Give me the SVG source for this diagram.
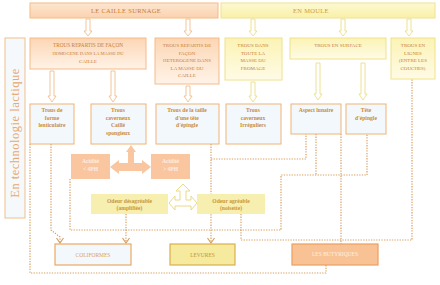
<svg xmlns="http://www.w3.org/2000/svg" width="440" height="285" viewBox="0 0 440 285">
<style>
text{font-family:"Liberation Serif","DejaVu Serif",serif;text-anchor:middle}
.bar{font-size:6.5px;letter-spacing:0.3px}
.cap{font-size:5px;fill:#c8803c}
.lbl{font-size:5.6px;font-weight:bold;fill:#c98a3c}
.wht{font-size:5.6px;font-weight:bold;fill:#fdeee0}
.odr{font-size:5.6px;font-weight:bold;fill:#c8963a}
.peach{fill:url(#gp);stroke:#f5bb86;stroke-width:1}
.yel{fill:url(#gy);stroke:#f0e28c;stroke-width:1}
.blue{fill:#f3f8fc;stroke:#efb476;stroke-width:1}
.acid{fill:#f9c6a0}
.odb{fill:#f7efb0}
.harr{fill:#fff;stroke:#f0b880;stroke-width:0.8}
.harry{fill:#fff;stroke:#eadb7c;stroke-width:0.8}
.dot{fill:none;stroke:#d8a060;stroke-width:1.2;stroke-dasharray:1.3 1.3}
</style>
<defs>
<linearGradient id="gp" x1="0" y1="0" x2="0" y2="1"><stop offset="0" stop-color="#fcd6b4"/><stop offset="1" stop-color="#fff3e8"/></linearGradient>
<linearGradient id="gy" x1="0" y1="0" x2="0" y2="1"><stop offset="0" stop-color="#fbf3b4"/><stop offset="1" stop-color="#fffbe6"/></linearGradient>
<linearGradient id="gbp" x1="0" y1="0" x2="0" y2="1"><stop offset="0" stop-color="#fde6d0"/><stop offset="1" stop-color="#fbd2ae"/></linearGradient>
<linearGradient id="gby" x1="0" y1="0" x2="0" y2="1"><stop offset="0" stop-color="#fdf9d2"/><stop offset="1" stop-color="#f9f0a8"/></linearGradient>
<marker id="ah" markerWidth="8" markerHeight="8" refX="6" refY="4" orient="auto" markerUnits="userSpaceOnUse"><path d="M1,0.5 L6,4 L1,7.5" fill="none" stroke="#d8a060" stroke-width="1.2"/></marker>
</defs>
<rect width="440" height="285" fill="#ffffff"/>

<g id="connectors">
<path class="dot" d="M30,144 V273 H326 V265"/>
<path class="dot" d="M51,144 V230 L60,237 V243" marker-end="url(#ah)"/>
<path class="dot" d="M70,179 V230 H281 V175 H367 V134"/>
<path class="dot" d="M316,134 V175"/>
<path class="dot" d="M211,144 V243" marker-end="url(#ah)"/>
<path class="dot" d="M211,159 H306 V134"/>
<path class="dot" d="M126,214 V243" marker-end="url(#ah)"/>
<path class="dot" d="M241,214 V240 H412 V79"/>
<path class="dot" d="M341,134 V244"/>
<path class="harr" d="M86,19 V31 H84 L88,36 L92,31 H90 V19 Z"/>
<path class="harr" d="M186,19 V31 H184 L188,36 L192,31 H190 V19 Z"/>
<path class="harry" d="M251,19 V31 H249 L253,36 L257,31 H255 V19 Z"/>
<path class="harry" d="M341,19 V31 H339 L343,36 L347,31 H345 V19 Z"/>
<path class="harry" d="M407,19 V31 H405 L409,36 L413,31 H411 V19 Z"/>
<path class="harr" d="M50,71 V96 H48 L52,102 L56,96 H54 V71 Z"/>
<path class="harr" d="M111,71 V96 H109 L113,102 L117,96 H115 V71 Z"/>
<path class="harr" d="M186,86 V96 H184 L188,102 L192,96 H190 V86 Z"/>
<path class="harry" d="M251,82 V96 H249 L253,102 L257,96 H255 V82 Z"/>
<path class="harry" d="M316,63 V94 H314 L318,100 L322,94 H320 V63 Z"/>
<path class="harry" d="M361,63 V94 H359 L363,100 L367,94 H365 V63 Z"/>
</g>

<g id="side"><rect x="5" y="38" width="20" height="180" fill="#f5f9fc" stroke="#f0bf8c" stroke-width="1"/>
<text transform="translate(19,133) rotate(-90)" style="font-size:12.5px;fill:#e8a872;letter-spacing:0.5px">En technologie lactique</text></g>

<g id="caille"><rect x="30" y="3" width="188" height="15" fill="url(#gbp)" stroke="#f6bb84" stroke-width="1"/><text class="bar" x="126" y="13" fill="#c87a34">LE CAILLE SURNAGE</text></g>
<g id="moule"><rect x="221" y="3" width="214" height="15" fill="url(#gby)" stroke="#f0e290" stroke-width="1"/><text class="bar" x="311" y="13" fill="#cf9a3c">EN MOULE</text></g>

<g id="homogene"><rect class="peach" x="30" y="38" width="116" height="31"/>
<text class="cap" x="88" y="47" style="font-size:5.3px">TROUS REPARTIS DE FAÇON</text>
<text class="cap" x="88" y="55" style="font-size:4.6px">HOMOGENE DANS LA MASSE DU</text>
<text class="cap" x="88" y="63">CAILLE</text></g>
<g id="heterogene"><rect class="peach" x="155" y="38" width="64" height="46"/>
<text class="cap" x="187" y="47">TROUS REPARTIS DE</text>
<text class="cap" x="187" y="54.5">FAÇON</text>
<text class="cap" x="187" y="62">HETEROGENE DANS</text>
<text class="cap" x="187" y="69.5">LA MASSE DU</text>
<text class="cap" x="187" y="77">CAILLE</text></g>
<g id="masse"><rect class="yel" x="225" y="38" width="57" height="42"/>
<text class="cap" x="253" y="47">TROUS DANS</text>
<text class="cap" x="253" y="54.5">TOUTE LA</text>
<text class="cap" x="253" y="62">MASSE DU</text>
<text class="cap" x="253" y="69.5">FROMAGE</text></g>
<g id="surface"><rect class="yel" x="290" y="38" width="96" height="21"/>
<text class="cap" x="338" y="47">TROUS EN SURFACE</text></g>
<g id="lignes"><rect class="yel" x="391" y="38" width="44" height="41"/>
<text class="cap" x="413" y="47">TROUS EN</text>
<text class="cap" x="413" y="54.5">LIGNES</text>
<text class="cap" x="413" y="62">(ENTRE LES</text>
<text class="cap" x="413" y="69.5">COUCHES)</text></g>

<g id="lenticulaire"><rect class="blue" x="30" y="104" width="44" height="40"/>
<text class="lbl" x="52" y="112">Trous de</text><text class="lbl" x="52" y="119.5">forme</text><text class="lbl" x="52" y="127">lenticulaire</text></g>
<g id="spongieux"><rect class="blue" x="91" y="104" width="55" height="40"/>
<text class="lbl" x="118" y="112">Trous</text><text class="lbl" x="118" y="119.5">caverneux</text><text class="lbl" x="118" y="127">Caillé</text><text class="lbl" x="118" y="134.5">spongieux</text></g>
<g id="taille"><rect class="blue" x="156" y="104" width="63" height="40"/>
<text class="lbl" x="187" y="112">Trous de la taille</text><text class="lbl" x="187" y="119.5">d'une tête</text><text class="lbl" x="187" y="127">d'épingle</text></g>
<g id="irreguliers"><rect class="blue" x="226" y="104" width="55" height="40"/>
<text class="lbl" x="253" y="112">Trous</text><text class="lbl" x="253" y="119.5">caverneux</text><text class="lbl" x="253" y="127">Irréguliers</text></g>
<g id="lunaire"><rect class="blue" x="291" y="104" width="50" height="30"/>
<text class="lbl" x="316" y="112">Aspect lunaire</text></g>
<g id="tete"><rect class="blue" x="346" y="104" width="40" height="30"/>
<text class="lbl" x="366" y="112">Tête</text><text class="lbl" x="366" y="119.5">d'épingle</text></g>

<g id="acid-arrow"><path class="acid" d="M110,167 L119,160 V163 H128 V152 H126 L131,145 L136,152 H134 V163 H142 V160 L151,167 L142,174 V171 H119 V174 Z"/></g>
<g id="acidite-bas"><rect class="acid" x="71" y="154" width="39" height="25"/>
<text class="wht" x="90.5" y="163">Acidité</text><text class="wht" x="90.5" y="171">&lt; 4PH</text></g>
<g id="acidite-haut"><rect class="acid" x="151" y="154" width="39" height="25"/>
<text class="wht" x="170.5" y="163">Acidité</text><text class="wht" x="170.5" y="171">&gt; 4PH</text></g>

<g id="odeur-arrow"><path fill="#fff" stroke="#e9d67a" stroke-width="0.9" d="M169,203 L175,196 V200 H180 V191 H176 L183,184 L190,191 H186 V200 H191 V196 L197,203 L191,210 V206 H175 V210 Z"/></g>
<g id="desagreable"><rect class="odb" x="91" y="194" width="77" height="20"/>
<text class="odr" x="129.5" y="202.5">Odeur désagréable</text><text class="odr" x="129.5" y="210">(amplifiée)</text></g>
<g id="agreable"><rect class="odb" x="197" y="194" width="68" height="20"/>
<text class="odr" x="231" y="202.5">Odeur agréable</text><text class="odr" x="231" y="210">(noisette)</text></g>

<g id="coliformes"><rect x="55" y="244" width="76" height="21" fill="#f3f8fc" stroke="#e9a963" stroke-width="1.2"/>
<text x="93" y="257" style="font-size:5.5px;fill:#d9a264">COLIFORMES</text></g>
<g id="levures"><rect x="170" y="244" width="65" height="21" fill="#f6ea9e" stroke="#d9b04c" stroke-width="1.2"/>
<text x="202.5" y="257" style="font-size:5.5px;fill:#c4962e">LEVURES</text></g>
<g id="butyriques"><rect x="292" y="244" width="86" height="21" fill="#f9c294" stroke="#e99e62" stroke-width="1.2"/>
<text x="335" y="256" style="font-size:5.5px;fill:#fdf0e2">LES BUTYRIQUES</text></g>
</svg>
